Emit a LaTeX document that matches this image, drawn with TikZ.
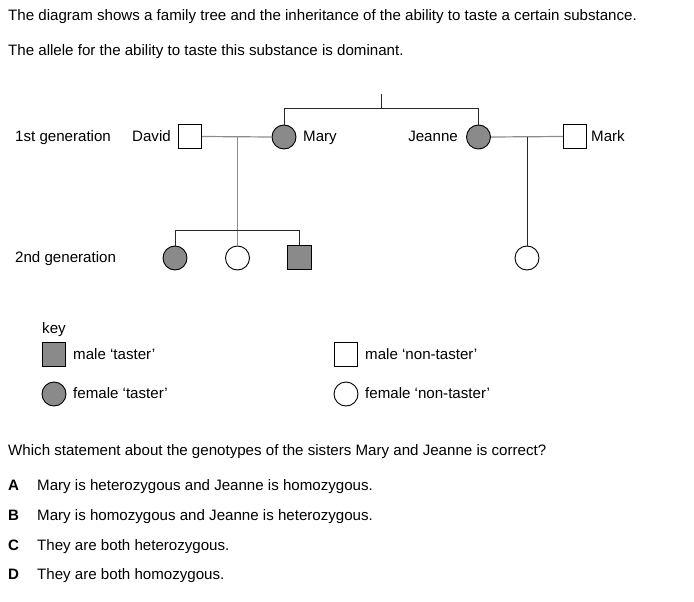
\documentclass[tikz,border=0pt]{standalone}
\usepackage{fontspec}
\setmainfont{Liberation Sans}
\definecolor{taster}{RGB}{138,138,138}
\definecolor{lgray}{RGB}{140,140,140}
\definecolor{dline}{RGB}{40,40,40}
\begin{document}
\begin{tikzpicture}[x=1pt,y=-1pt,
  txt/.style={anchor=base west,inner sep=0pt,font=\fontsize{15.1}{17}\selectfont},
  txtr/.style={anchor=base east,inner sep=0pt,font=\fontsize{15.1}{17}\selectfont},
  lbl/.style={anchor=base west,inner sep=0pt,font=\fontsize{15.1}{17}\selectfont\bfseries},
  malebox/.style={draw=black,line width=0.9pt,minimum size=23.5pt,inner sep=0pt,rectangle},
  femcirc/.style={draw=black,line width=0.9pt,minimum size=24pt,inner sep=0pt,circle},
  filled/.style={fill=taster},
  empty/.style={fill=white},
  mline/.style={draw=lgray,line width=1.2pt},
  sline/.style={draw=dline,line width=0.9pt}]
\useasboundingbox (0,0) rectangle (694,602);
\fill[white] (0,0) rectangle (694,602);

% header text
\node[txt] (t1) at (8,20.5) {The diagram shows a family tree and the inheritance of the ability to taste a certain substance.};
\node[txt] (t2) at (8,55.5) {The allele for the ability to taste this substance is dominant.};

% generation labels
\node[txt] (g1) at (15,142) {1st generation};
\node[txt] (g2) at (15,262) {2nd generation};

% first generation
\node[malebox,empty] (david) at (190,136.5) {};
\node[femcirc,filled] (mary) at (284,137) {};
\node[femcirc,filled] (jeanne) at (478.5,137) {};
\node[malebox,empty] (mark) at (575,136.5) {};
\node[txtr] (ldavid) at (171,142) {David};
\node[txt] (lmary) at (303,142) {Mary};
\node[txtr] (ljeanne) at (458,142) {Jeanne};
\node[txt] (lmark) at (591,142) {Mark};

% second generation
\node[femcirc,filled] (c1) at (175,258) {};
\node[femcirc,empty] (c2) at (237.5,258) {};
\node[malebox,filled] (c3) at (299.5,257.5) {};
\node[femcirc,empty] (c4) at (527,258) {};

% connector coordinates
\coordinate (top) at (381.5,94);
\coordinate (topj) at (381.5,108.5);
\coordinate (ml) at (284,108.5);
\coordinate (jl) at (478.5,108.5);
\coordinate (m1) at (237.5,137);
\coordinate (s1) at (175,230);
\coordinate (s3) at (299.5,230);
\coordinate (m2) at (527,137);

% sibling line of parents
\draw[sline] (top) -- (topj);
\draw[sline] (mary.north) -- (ml) -- (jl) -- (jeanne.north);

% marriages
\draw[mline] (david.east) -- (mary.west);
\draw[mline] (jeanne.east) -- (mark.west);

% descent lines
\draw[mline] (m1) -- (c2.north);
\draw[sline] (c1.north) -- (s1) -- (s3) -- (c3.north);
\draw[sline] (m2) -- (c4.north);

% key
\node[txt] (key) at (42,333) {key};
\node[malebox,filled] (k1) at (54,354.5) {};
\node[txt] (k1t) at (73,359) {male ‘taster’};
\node[femcirc,filled] (k2) at (54,394) {};
\node[txt] (k2t) at (73,398.5) {female ‘taster’};
\node[malebox,empty] (k3) at (346,354.5) {};
\node[txt] (k3t) at (365,359) {male ‘non-taster’};
\node[femcirc,empty] (k4) at (346,394) {};
\node[txt] (k4t) at (365,398.5) {female ‘non-taster’};

% question
\node[txt] (q) at (8,455) {Which statement about the genotypes of the sisters Mary and Jeanne is correct?};
\node[lbl] (a) at (8,490) {A};
\node[txt] (at) at (37,490) {Mary is heterozygous and Jeanne is homozygous.};
\node[lbl] (b) at (8,520) {B};
\node[txt] (bt) at (37,520) {Mary is homozygous and Jeanne is heterozygous.};
\node[lbl] (c) at (8,550) {C};
\node[txt] (ct) at (37,550) {They are both heterozygous.};
\node[lbl] (d) at (8,579) {D};
\node[txt] (dt) at (37,579) {They are both homozygous.};
\end{tikzpicture}
\end{document}
